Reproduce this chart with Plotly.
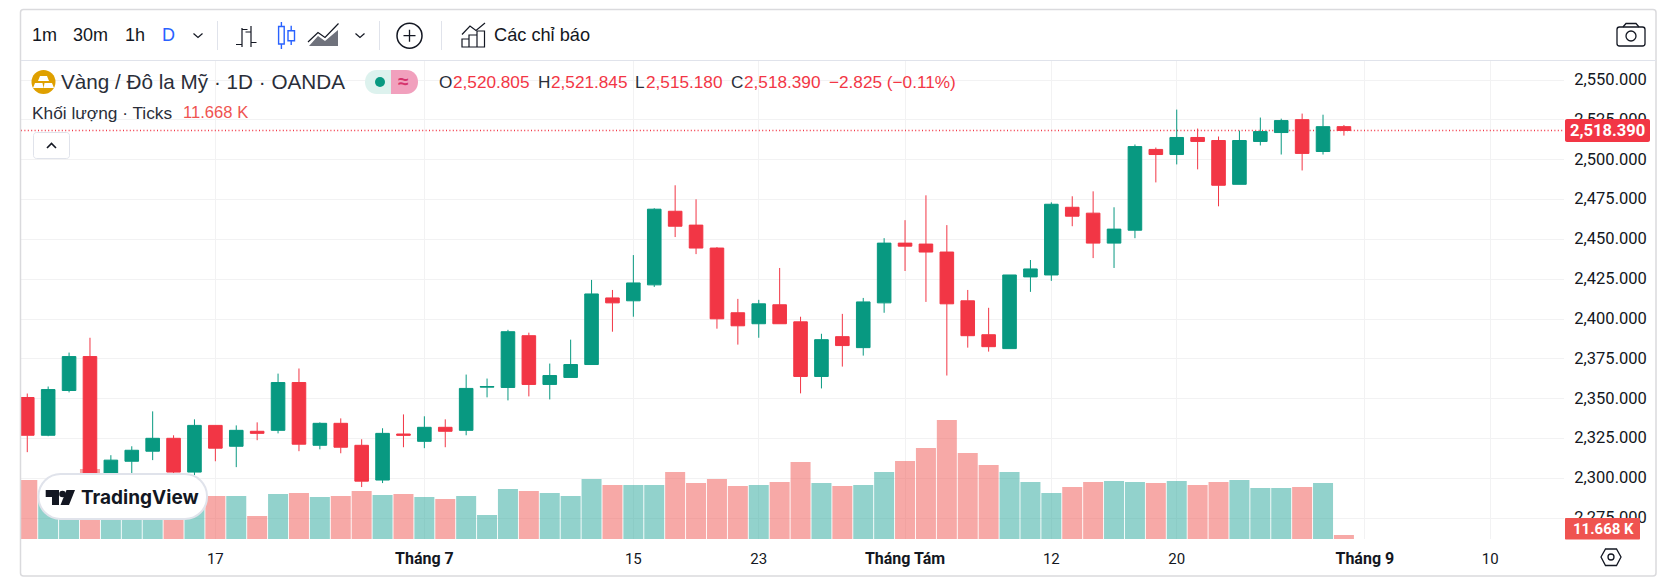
import re
import plotly.graph_objects as go

W, H = 1668, 585

bar_index = list(range(64))
open_ = [2350.8,2327.1,2355.2,2376.5,2293.5,2310.8,2317.1,2325.2,2304.0,2333.3,2320.2,2329.6,2330.2,2360.2,2320.8,2334.6,
         2320.8,2299.0,2327.9,2323.3,2332.1,2330.2,2357.3,2357.1,2389.6,2359.0,2363.4,2371.5,2413.3,2411.5,2421.5,2467.7,
         2459.0,2444.6,2404.0,2397.1,2409.0,2398.3,2364.0,2389.0,2382.1,2410.2,2447.7,2447.1,2442.1,2411.5,2390.2,2381.5,
         2426.5,2427.7,2470.2,2466.5,2447.7,2455.8,2506.5,2503.3,2514.0,2512.1,2484.6,2511.5,2517.1,2525.2,2505.2,2520.805]
high = [2353.3,2357.7,2379.0,2388.3,2314.6,2320.2,2342.1,2327.1,2337.1,2333.3,2333.3,2335.2,2365.8,2369.0,2335.2,2337.7,
        2324.6,2331.5,2340.2,2339.0,2337.1,2365.2,2362.7,2393.3,2391.5,2372.1,2387.1,2424.6,2418.3,2440.2,2469.6,2484.0,
        2475.2,2445.2,2412.7,2412.1,2432.1,2401.5,2390.8,2403.3,2413.3,2450.8,2462.1,2477.7,2459.0,2418.3,2407.1,2427.7,
        2437.1,2473.3,2477.1,2480.2,2470.2,2509.6,2507.7,2531.5,2519.6,2514.6,2518.3,2526.5,2525.8,2529.0,2528.3,2521.845]
low = [2316.5,2326.5,2354.0,2286.8,2287.0,2300.0,2311.5,2303.3,2302.1,2310.8,2307.1,2324.0,2328.3,2317.1,2318.3,2315.8,
       2294.6,2297.1,2319.6,2319.0,2319.6,2327.1,2350.9,2349.0,2351.5,2349.6,2363.4,2371.5,2392.1,2401.5,2420.2,2451.5,
       2440.8,2394.0,2384.0,2388.3,2397.1,2353.4,2356.5,2370.2,2377.1,2404.0,2430.2,2410.8,2364.6,2382.1,2379.6,2381.5,
       2417.1,2424.0,2458.3,2438.3,2432.1,2450.8,2485.8,2497.1,2494.0,2470.8,2484.6,2509.0,2503.3,2493.3,2503.3,2515.18]
close = [2327.1,2355.8,2376.5,2293.5,2311.5,2317.7,2325.2,2304.0,2333.3,2319.0,2330.2,2328.3,2360.2,2321.5,2334.6,2319.6,
         2298.3,2328.3,2327.1,2332.1,2329.6,2356.5,2357.7,2392.1,2359.0,2364.6,2371.5,2415.8,2410.2,2422.7,2469.0,2458.3,
         2444.6,2400.2,2395.8,2409.6,2397.1,2364.0,2387.1,2383.4,2410.8,2447.7,2445.8,2442.1,2409.6,2389.6,2382.7,2427.7,
         2431.5,2472.1,2464.6,2447.7,2456.5,2508.3,2503.3,2514.0,2511.5,2484.0,2512.1,2517.7,2524.6,2504.0,2520.8,2518.39]
volume_k = [171.1,137,147,203,137,132,132,142,132,124.7,124.7,66.7,130.5,133.4,121.8,124.7,
            139.2,127.6,130.5,121.8,116,124.7,69.6,145,139.2,133.4,124.7,174,156.6,156.6,156.6,194.3,
            162.4,174,153.7,156.6,165.3,223.3,162.4,153.7,156.6,194.3,226.2,263.9,345.1,249.4,214.6,194.3,
            165.3,133.4,150.8,165.3,168.2,165.3,162.4,168.2,156.6,165.3,171.1,147.9,147.9,150.8,162.4,11.668]

x_tick_pos = [9, 19, 29, 35, 42, 49, 55, 64, 70]
x_tick_text = ["17", "<b style='font-size:16px'>Tháng 7</b>", "15", "23", "<b style='font-size:16px'>Tháng Tám</b>",
               "12", "20", "<b style='font-size:16px'>Tháng 9</b>", "10"]
price_ticks = [2275, 2300, 2325, 2350, 2375, 2400, 2425, 2450, 2475, 2500, 2525, 2550]

TITLE = "Vàng / Đô la Mỹ · 1D · OANDA"
OHLC_TEXT = ["2,520.805", "2,521.845", "2,515.180", "2,518.390"]
CHANGE_TEXT = "−2.825 (−0.11%)"
LAST_PRICE = "2,518.390"
LAST_VOL = "11.668 K"

TEAL, RED = "#089981", "#F23645"
V_TEAL, V_RED = "rgba(38,166,154,0.5)", "rgba(239,83,80,0.5)"
INK = "#131722"
GRID = "#F2F2F3"
EDGE = "#E0E3EB"
FONT = "Liberation Sans"
AXFONT = "Roboto"

PL, PR, PT, PB = 21, 1564, 61, 539
XMIN, XMAX = -0.30, 73.53
PRICE_RANGE = [2262, 2562]
VOL_RANGE = [0, 1386.2]


def fx(x):
    return x / W


def fy(y):
    return 1 - y / H


def pth(s):
    toks = re.findall(r"[A-Za-z]|-?\d+\.?\d*", s)
    out, idx = [], 0
    for t in toks:
        if t.isalpha():
            out.append(t)
        else:
            out.append(f"{fx(float(t)):.6f}" if idx % 2 == 0 else f"{fy(float(t)):.6f}")
            idx += 1
    return " ".join(out)


shapes, annos = [], []


def path(s, color=INK, width=1.5, fill=None):
    shapes.append(dict(type="path", xref="paper", yref="paper", path=pth(s), layer="above",
                       line=dict(color=color, width=width), fillcolor=fill or "rgba(0,0,0,0)"))


def solid(s, fill):
    shapes.append(dict(type="path", xref="paper", yref="paper", path=pth(s), layer="above",
                       line=dict(width=0), fillcolor=fill))


def circle(cx, cy, r, color=INK, width=1.5, fill=None):
    shapes.append(dict(type="circle", xref="paper", yref="paper", x0=fx(cx - r), x1=fx(cx + r),
                       y0=fy(cy + r), y1=fy(cy - r), layer="above",
                       line=dict(color=color, width=width), fillcolor=fill or "rgba(0,0,0,0)"))


def rrect(x0, y0, x1, y1, r, color=EDGE, width=1, fill=None):
    k = r * 0.45
    s = (f"M {x0+r} {y0} L {x1-r} {y0} C {x1-k} {y0} {x1} {y0+k} {x1} {y0+r} L {x1} {y1-r} "
         f"C {x1} {y1-k} {x1-k} {y1} {x1-r} {y1} L {x0+r} {y1} C {x0+k} {y1} {x0} {y1-k} {x0} {y1-r} "
         f"L {x0} {y0+r} C {x0} {y0+k} {x0+k} {y0} {x0+r} {y0} Z")
    path(s, color, width, fill)


def txt(x, y, s, size=15, color=INK, anchor="left", family=FONT):
    annos.append(dict(x=fx(x), y=fy(y), xref="paper", yref="paper", text=s, showarrow=False,
                      xanchor=anchor, yanchor="middle", xshift=0, align="left",
                      font=dict(size=size, color=color, family=family), borderpad=0, borderwidth=0))


# outer frame and toolbar
rrect(20.5, 9.5, 1656, 576, 3, "#DADADD", 1.5)
path("M 21 60.5 L 1656 60.5", EDGE, 1)
for sx in (217.5, 379.5, 441.5):
    path(f"M {sx} 21 L {sx} 50", EDGE, 1)

txt(32, 35, "1m", 18)
txt(73, 35, "30m", 18)
txt(125, 35, "1h", 18)
txt(162, 35, "D", 18, "#2962FF")
path("M 193.5 33.5 L 198 37.5 L 202.5 33.5", INK, 1.2)
path("M 355.5 33.5 L 360 37.5 L 364.5 33.5", INK, 1.2)
# bar icon
path("M 242 28 L 242 47 M 236 44.5 L 242 44.5 M 242 29.5 L 247.5 29.5 "
     "M 251 26 L 251 47 M 245.5 32 L 251 32 M 251 42.5 L 256.5 42.5", INK, 1.2)
# candle icon
path("M 278.6 26.5 L 284.2 26.5 L 284.2 44 L 278.6 44 Z M 281.4 22 L 281.4 26.5 M 281.4 44 L 281.4 49 "
     "M 288 30.7 L 294.5 30.7 L 294.5 40.7 L 288 40.7 Z M 291.2 25.7 L 291.2 30.7 M 291.2 40.7 L 291.2 45", "#2962FF", 1.4)
# area icon
solid("M 309 46 L 318 36 L 325 41 L 338 30 L 338 46 Z", "#6F727C")
path("M 308 42 L 318 32.5 L 325 37.5 L 338.5 23.5", INK, 1.2)
# add circle
circle(409.5, 35.7, 12.5)
path("M 403.5 35.7 L 415.5 35.7 M 409.5 29.7 L 409.5 41.7", INK, 1.3)
# indicators icon
path("M 462 47 L 462 39 L 469 39 L 469 47 Z M 469 47 L 469 35 L 477 35 L 477 47 Z M 477 47 L 477 31 L 484.5 31 L 484.5 47 Z",
     INK, 1.2)
path("M 462 34.5 L 470 26 L 476 30.5 L 485 23", INK, 1.2)
txt(494, 35, "Các chỉ báo", 18.2)
# camera icon
rrect(1617, 27, 1645, 46, 2.5, INK, 1.3)
path("M 1623 27 L 1626 23.5 L 1636 23.5 L 1639 27", INK, 1.3)
circle(1631, 36, 5, INK, 1.3)

# legend row
circle(43.5, 82, 12, "#DFA000", 0, "#DFA000")
solid("M 40 76 L 47 76 L 49 81 L 38 81 Z", "#FFFFFF")
solid("M 35 83 L 42.5 83 L 43.5 88 L 33 88 Z", "#FFFFFF")
solid("M 44.5 83 L 52 83 L 54 88 L 43.5 88 Z", "#FFFFFF")
txt(61, 82, TITLE, 20.7, "#2A2E39")
solid("M 391 70 L 377 70 C 369 70 365 76 365 82 C 365 88 369 94 377 94 L 391 94 Z", "#DDF2EE")
solid("M 391 70 L 406 70 C 414 70 418 76 418 82 C 418 88 414 94 406 94 L 391 94 Z", "#F1A0BD")
circle(380, 82, 5, TEAL, 0, TEAL)
txt(403, 82, "<b>≈</b>", 19, "#D6336C", "center")
for x, lab, vx, val in zip((439, 538, 635, 731), "OHLC", (453, 551, 646, 744), OHLC_TEXT):
    txt(x, 82, lab, 17.2, "#2A2E39")
    txt(vx, 82, val, 17.2, RED)
txt(829, 82, CHANGE_TEXT, 17.2, RED)
txt(32, 113, "Khối lượng · Ticks", 17.3, "#2A2E39")
txt(183, 113, LAST_VOL, 16.6, "#EF5350")
rrect(33.5, 132.5, 69.5, 158.5, 3, EDGE, 1, "#FFFFFF")
path("M 47 148 L 51.5 143.5 L 56 148", INK, 1.6)

# price and volume badges
rrect(1565, 119, 1650, 142, 2, RED, 0, RED)
txt(1644.5, 130, f"<b>{LAST_PRICE}</b>", 16.5, "#FFFFFF", "right", AXFONT)
rrect(1565, 518, 1640, 539.5, 1, "#EF5350", 0, "#EF5350")
txt(1634, 528.5, f"<b>{LAST_VOL}</b>", 15, "#FFFFFF", "right", AXFONT)

# settings hexagon
path("M 1601 557 L 1605.5 549 L 1616.5 549 L 1621 557 L 1616.5 565.5 L 1605.5 565.5 Z", INK, 1.3)
circle(1611, 557, 3, INK, 1.3)

# TradingView badge
rrect(38.5, 474, 207, 519, 22, EDGE, 2, "#FFFFFF")
solid("M 45.7 490 L 59 490 L 59 505 L 52 505 L 52 497 L 45.7 497 Z", INK)
circle(62.5, 494, 3.3, INK, 0, INK)
solid("M 75 490 L 69 505 L 60.5 505 L 66.5 490 Z", INK)
txt(81, 497, "<b>TradingView</b>", 19, INK, "left", "Inter")

fig = go.Figure()
# base trace on the price axis: last-close dotted line
fig.add_trace(go.Scatter(x=[XMIN, XMAX], y=[close[-1], close[-1]], mode="lines", yaxis="y",
                         line=dict(color=RED, width=1.4, dash="1px,2.4px"), hoverinfo="skip", showlegend=False))
fig.add_trace(go.Bar(x=bar_index, y=volume_k, yaxis="y2",
                     marker=dict(color=[V_TEAL if c >= o else V_RED for o, c in zip(open_, close)], line=dict(width=0)),
                     hoverinfo="skip", showlegend=False))
fig.add_trace(go.Candlestick(x=bar_index, open=open_, high=high, low=low, close=close, yaxis="y3",
                             whiskerwidth=0, hoverinfo="skip", showlegend=False,
                             increasing=dict(line=dict(color=TEAL, width=1), fillcolor=TEAL),
                             decreasing=dict(line=dict(color=RED, width=1), fillcolor=RED)))

fig.update_layout(
    width=W, height=H, autosize=False, margin=dict(l=0, r=0, t=0, b=0),
    paper_bgcolor="#FFFFFF", plot_bgcolor="#FFFFFF", showlegend=False, hovermode=False,
    bargap=0.043, boxgap=0.35, boxgroupgap=0,
    xaxis=dict(domain=[fx(PL), fx(PR)], range=[XMIN, XMAX], rangeslider=dict(visible=False),
               tickmode="array", tickvals=x_tick_pos, ticktext=x_tick_text,
               showgrid=True, gridcolor=GRID, gridwidth=1, zeroline=False, showline=False,
               ticks="outside", ticklen=6, tickcolor="rgba(0,0,0,0)",
               tickfont=dict(size=15, color=INK, family=AXFONT), tickangle=0, anchor="y"),
    yaxis=dict(domain=[fy(PB), fy(PT)], range=PRICE_RANGE, side="right",
               tickmode="array", tickvals=price_ticks, tickformat=",.3f",
               showgrid=True, gridcolor=GRID, gridwidth=1, zeroline=False, showline=False,
               ticks="outside", ticklen=6, tickcolor="rgba(0,0,0,0)", ticklabelshift=-1,
               tickfont=dict(size=16.5, color=INK, family=AXFONT), anchor="x"),
    yaxis2=dict(domain=[fy(PB), fy(PT)], range=VOL_RANGE, overlaying="y", visible=False, anchor="x"),
    yaxis3=dict(domain=[fy(PB), fy(PT)], range=PRICE_RANGE, overlaying="y", visible=False, anchor="x"),
    shapes=shapes, annotations=annos,
)

fig.write_html("out.html", config={"displayModeBar": False},
               post_script="document.body.style.margin='0';document.documentElement.style.overflow='hidden';")
